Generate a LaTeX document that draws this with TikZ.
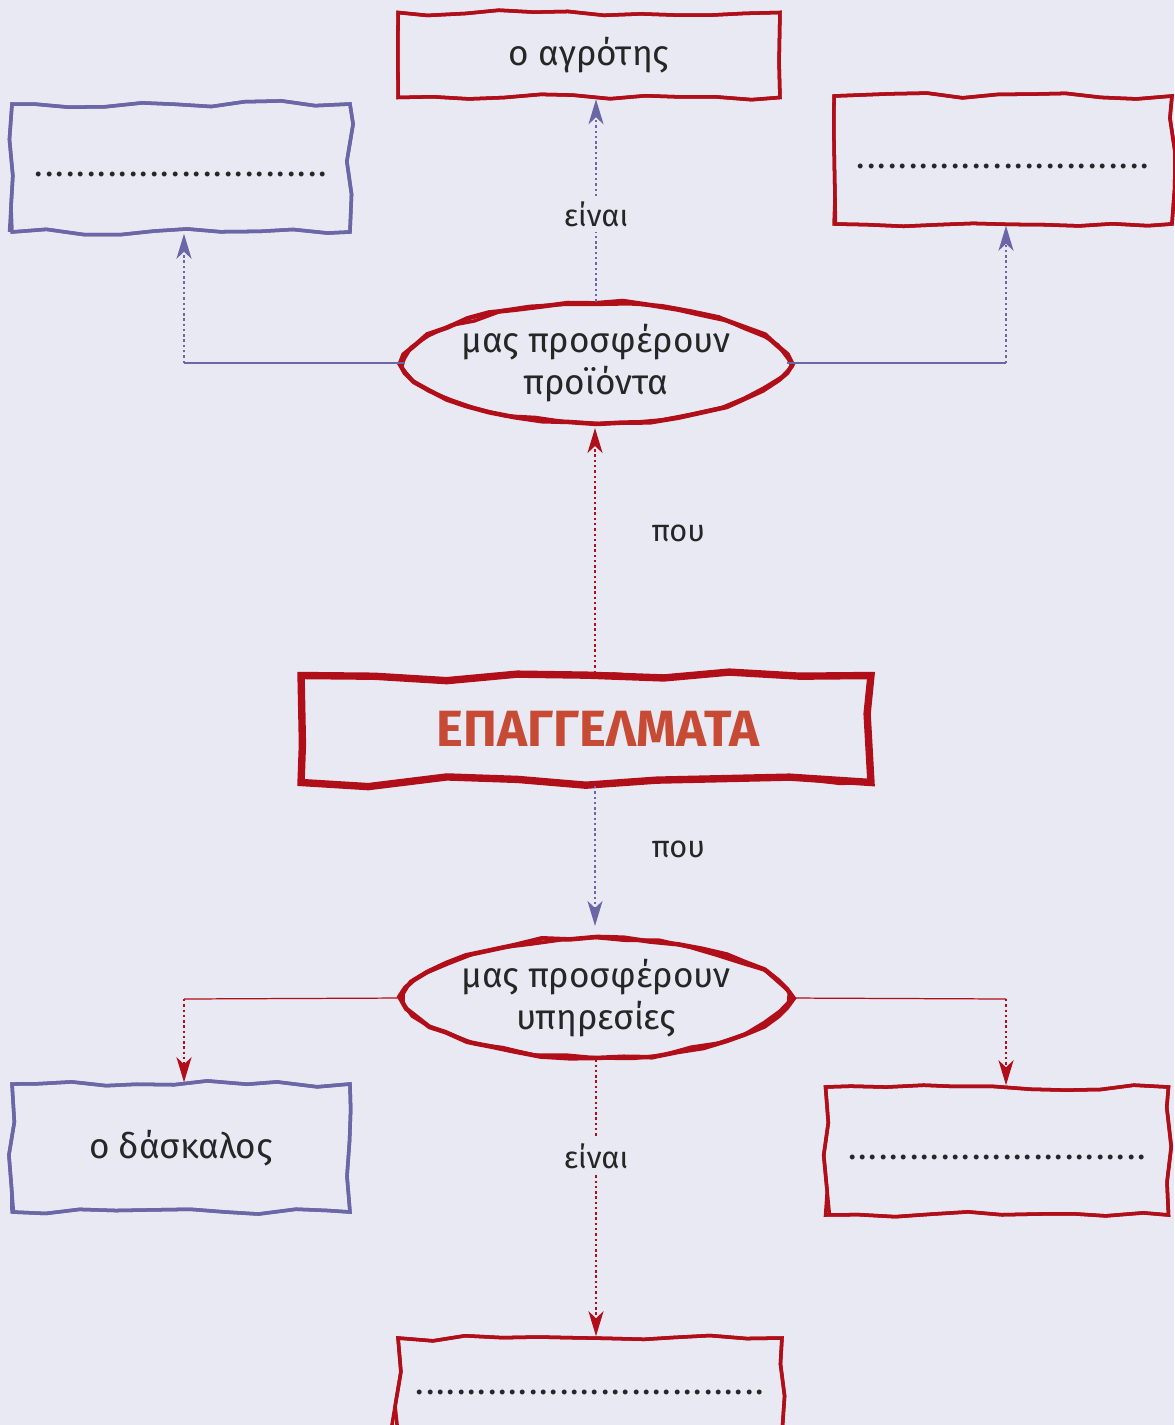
\documentclass[tikz,border=0pt]{standalone}
\usepackage{fontspec}
\setmainfont{Fira Sans}
\usetikzlibrary{shapes.geometric,decorations.pathmorphing,arrows.meta}
\definecolor{bg}{RGB}{233,233,243}
\definecolor{rd}{RGB}{176,14,24}
\definecolor{bl}{RGB}{107,103,166}
\definecolor{tt}{RGB}{198,74,52}
\newcommand{\kena}[1]{\strut\hbox to #1{\xleaders\hbox to 0.205cm{\hss.\hss}\hfill}}
\begin{document}
\begin{tikzpicture}[x=0.02cm, y=-0.02cm,
      font=\fontsize{20}{24}\selectfont, text=black!85,
      rough/.style={draw=#1, line width=2pt, line join=miter,
        decorate, decoration={random steps, segment length=20pt, amplitude=1.8pt},
        preaction={draw=#1, line width=2pt, decorate,
          decoration={random steps, segment length=28pt, amplitude=1.8pt}}},
      rec/.style={rough=#1, align=center, minimum width=6.76cm, minimum height=2.56cm, inner sep=0pt},
      ell/.style={ellipse, align=center, minimum width=7.64cm, minimum height=2.44cm, inner sep=0pt},
      lbl/.style={font=\fontsize{17.5}{20}\selectfont, text=black!85, inner sep=3pt},
      dot/.style={dash pattern=on 1.4pt off 1.6pt, line width=1.4pt},
      tip/.style={-{Stealth[length=0.5cm, width=0.3cm, inset=0.14cm]}}]
    \pgfmathsetseed{7}
    \fill[bg] (0,0) rectangle (1174,1425);
    \useasboundingbox (0,0) rectangle (1174,1425);
    % boxes
    \node[rec=rd, minimum width=7.64cm, minimum height=1.7cm] (agr) at (589,55) {ο αγρότης};
    \node[rec=bl] (lt) at (181,168) {\kena{5.9cm}};
    \node[rec=rd] (rt) at (1003,160) {\kena{5.9cm}};
    \node[ell] (e1) at (596,363) {μας προσφέρουν\\προϊόντα};
    \node[rough=rd, line width=4.2pt, minimum width=11.4cm, minimum height=2.14cm,
      decoration={amplitude=3.6pt, segment length=40pt}, font=\fontsize{29}{32}\selectfont\bfseries, text=tt] (ep) at (586,729) {\hspace*{0.48cm}ΕΠΑΓΓΕΛΜΑΤΑ};
    \node[ell] (e2) at (596,998) {μας προσφέρουν\\υπηρεσίες};
    \node[rec=bl] (lb) at (181,1148) {ο δάσκαλος};
    \node[rec=rd, minimum width=6.86cm] (rb) at (997,1151) {\kena{6.0cm}};
    \node[rec=rd, minimum width=7.68cm, minimum height=1.92cm] (bt) at (590,1386) {\kena{7cm}};
    % rough ellipses, pointed at both ends
    \foreach \e in {e1,e2} {
      \begin{scope}[shift={(\e.center)}]
        \draw[rd, line width=2.6pt, line join=miter] plot[domain=0:351, samples=40]
          ({191*cos(\x)*(1-0.1*abs(sin(\x)))/0.97+1.8*rand}, {61*sin(\x)+1.8*rand}) -- cycle;
        \draw[rd, line width=2pt, line join=miter] plot[domain=4:355, samples=34]
          ({190*cos(\x)*(1-0.1*abs(sin(\x)))/0.97+2.2*rand}, {60*sin(\x)+2.2*rand}) -- cycle;
      \end{scope}
    }
    % upper part
    \coordinate (c1) at (184,363);
    \coordinate (c2) at (1006,363);
    \draw[bl, dot, tip] (e1.north) -- node[lbl, fill=bg, pos=.43] {είναι} (e1.north |- agr.south);
    \draw[bl, line width=0.7pt] (e1.west) -- (c1);
    \draw[bl, line width=0.7pt] (e1.east) -- (c2);
    \draw[bl, dot, tip] (c1) -- (c1 |- lt.south);
    \draw[bl, dot, tip] (c2) -- (c2 |- rt.south);
    \draw[rd, dot, tip] (595,673) -- node[lbl, pos=.57, right=1cm] {που} (595,428);
    % lower part
    \draw[bl, dot, tip] (595,786) -- node[lbl, pos=.45, right=1cm] {που} (595,926);
    \coordinate (c3) at (184,999);
    \coordinate (c4) at (1006,999);
    \draw[rd, line width=0.7pt] (e2.west) -- (c3);
    \draw[rd, line width=0.7pt] (e2.east) -- (c4);
    \draw[rd, dot, tip] (c3) -- (c3 |- lb.north);
    \draw[rd, dot, tip] (c4) -- (c4 |- rb.north);
    \draw[rd, dot, tip] (e2.south) -- node[lbl, fill=bg, pos=.35] {είναι} (e2.south |- bt.north);
  \end{tikzpicture}
\end{document}
